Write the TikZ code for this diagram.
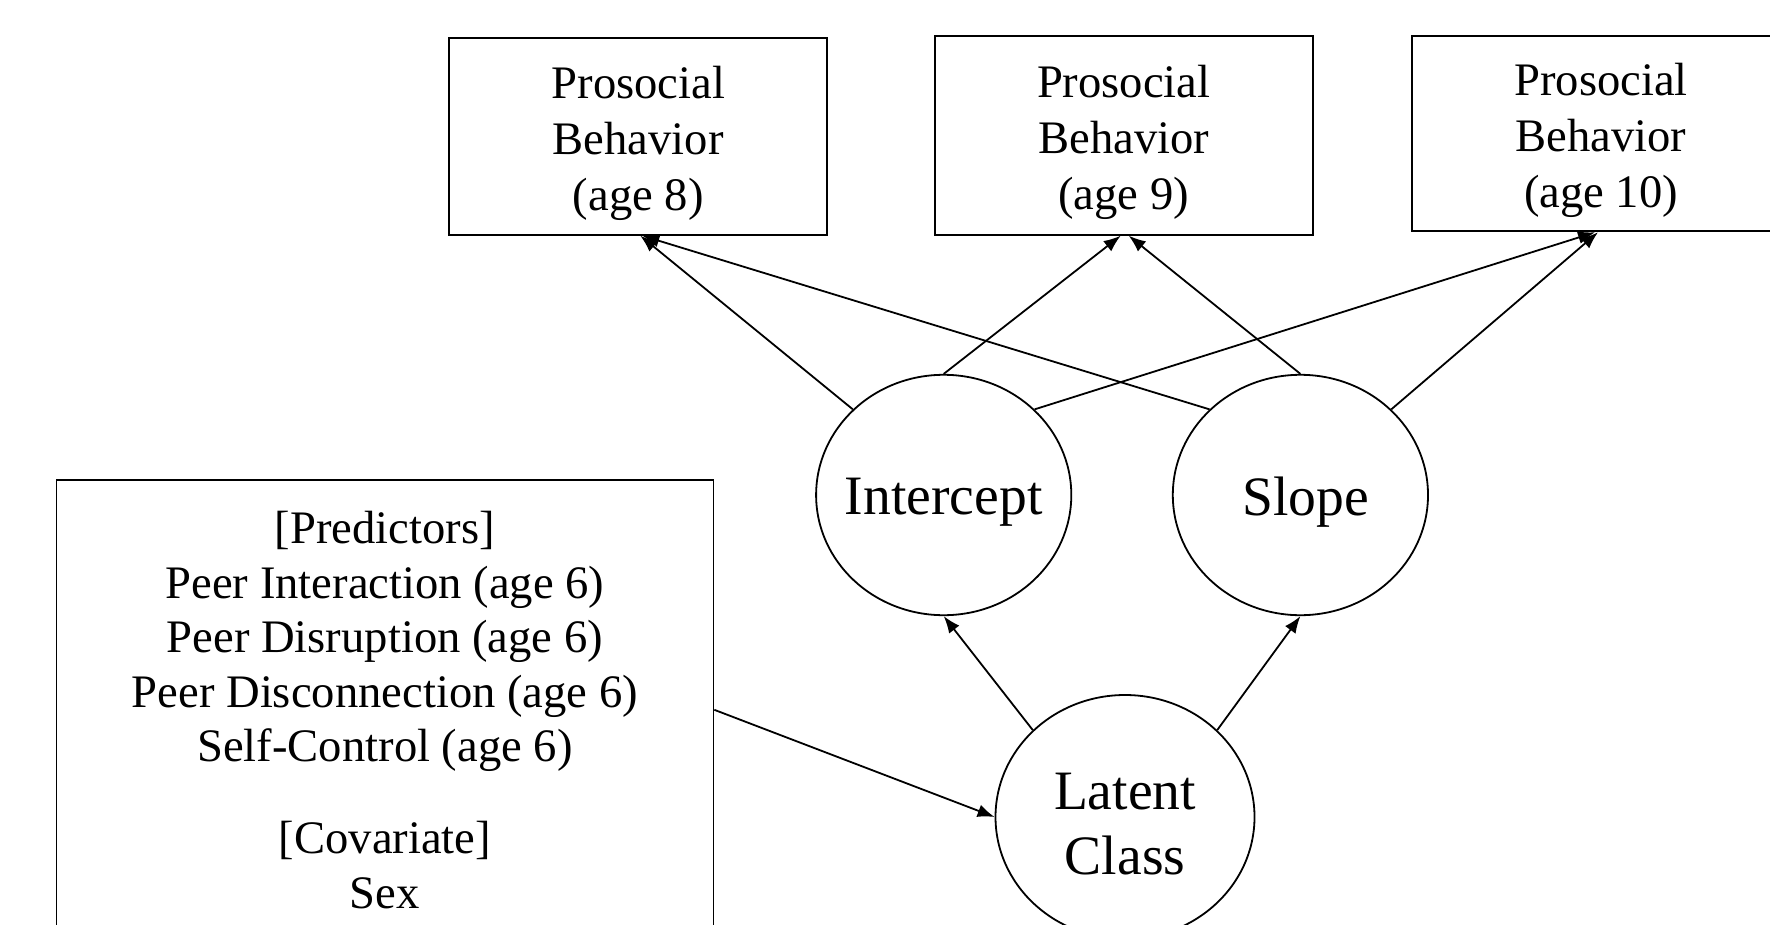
\documentclass[tikz,border=0pt]{standalone}
\usepackage{fontspec}
\setmainfont{Liberation Serif}
\usetikzlibrary{shapes.geometric,arrows.meta,calc}
\begin{document}
\begin{tikzpicture}[x=0.5pt,y=-0.5pt,
  pbox/.style={draw,line width=0.9pt,rectangle,minimum width=189pt,inner sep=0pt},
  ptxt/.style={align=center,inner sep=0pt,font=\fontsize{23.3pt}{28pt}\selectfont},
  latvar/.style={draw,line width=0.9pt,ellipse,minimum width=127.6pt,minimum height=120.2pt,inner sep=0pt},
  lattxt/.style={align=center,inner sep=0pt,font=\fontsize{27.8pt}{32.5pt}\selectfont},
  arr/.style={line width=0.9pt,-{Latex[length=8.5pt,width=6.5pt]}}]
\clip (0,0) rectangle (1770,925);
\fill[white] (0,0) rectangle (1770,925);
% outcome boxes
\node[pbox,minimum height=98.2pt] (b1) at (638.3,136.6) {};
\node[pbox,minimum height=99.3pt] (b2) at (1123.7,135.5) {};
\node[pbox,minimum height=97.6pt] (b3) at (1601,133.8) {};
\node[ptxt] (b1t) at ([yshift=-3.5pt]b1.center) {Prosocial\\Behavior\\(age 8)};
\node[ptxt] (b2t) at ([yshift=-3.5pt]b2.center) {Prosocial\\Behavior\\(age 9)};
\node[ptxt] (b3t) at ([yshift=-3.5pt]b3.center) {Prosocial\\Behavior\\(age 10)};
% growth factors
\node[latvar] (int) at (943.7,495) {};
\node[latvar] (slo) at (1300.4,495) {};
\node[latvar,minimum width=129.5pt,minimum height=122pt] (lat) at (1125,817) {};
\node[lattxt] (intt) at ([yshift=-3.5pt]int.center) {Intercept};
\node[lattxt] (slot) at ([xshift=2.5pt,yshift=-3.5pt]slo.center) {Slope};
\node[lattxt] (latt) at ([yshift=-3.5pt]lat.center) {Latent\\Class};
% predictors box
\node[draw,line width=0.9pt,rectangle,minimum width=328.5pt,minimum height=260.2pt,inner sep=0pt] (pred) at (384.9,739.9) {};
\node[align=center,inner sep=0pt,font=\fontsize{23.3pt}{27.25pt}\selectfont] (predtxt) at (384.9,710)
  {[Predictors]\\Peer Interaction (age 6)\\Peer Disruption (age 6)\\Peer Disconnection (age 6)\\Self-Control (age 6)\\[18.75pt][Covariate]\\Sex};
% connectors
\draw[arr] (int.north west) -- ([xshift=1pt]b1.south);
\draw[arr] (slo.north west) -- ([xshift=2pt]b1.south);
\draw[arr] (int.north) -- ([xshift=-1.5pt]b2.south);
\draw[arr] (slo.north) -- ([xshift=2.5pt]b2.south);
\draw[arr] (int.north east) -- ([xshift=-3pt]b3.south);
\draw[arr] (slo.north east) -- ([xshift=-1.5pt]b3.south);
\draw[arr] (lat.north west) -- (int.south);
\draw[arr] (lat.north east) -- (slo.south);
\draw[arr] ($(pred.north east)+(0,231)$) -- (lat.west);
\end{tikzpicture}
\end{document}
